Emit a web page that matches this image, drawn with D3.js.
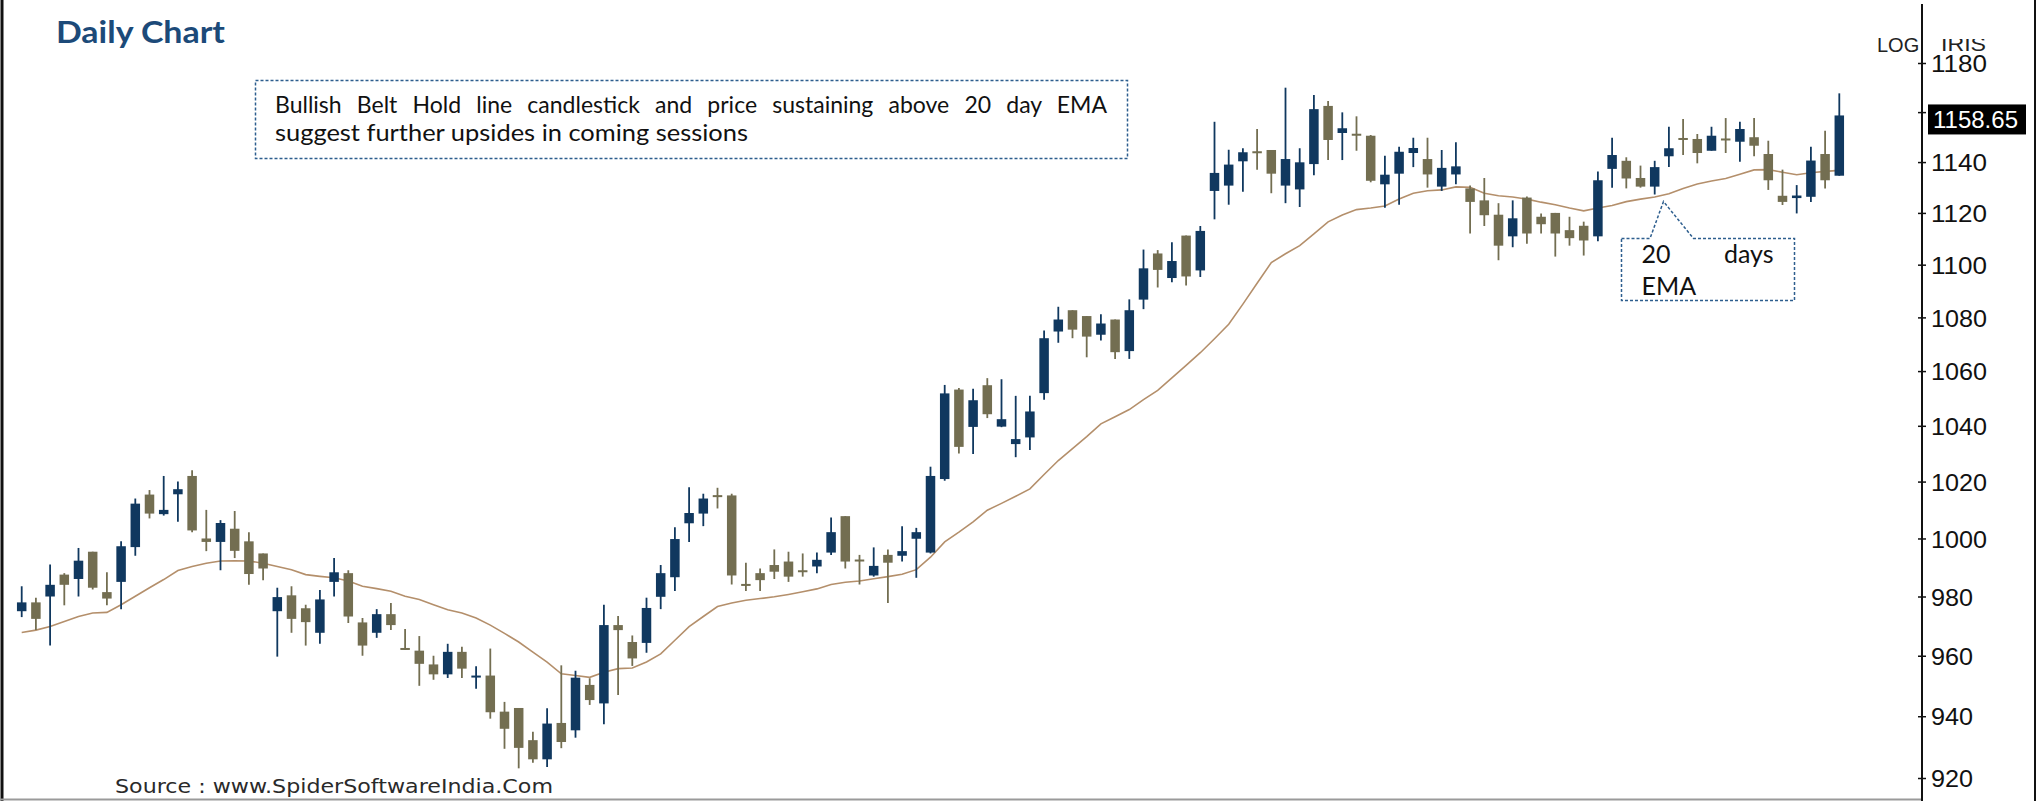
<!DOCTYPE html>
<html>
<head>
<meta charset="utf-8">
<script src="https://cdn.jsdelivr.net/npm/d3@7"></script>
<style>
  body { margin: 0; background: #fff; }
  svg { display: block; }
</style>
</head>
<body>
<script>
// daily candles (oldest -> newest)
var opens = [975, 978, 980, 987.5, 986, 995.4, 981.5, 985, 997, 1015.4,
  1008.5, 1015.5, 1022, 1000, 998.8, 1003.4, 999, 994.8, 975, 980.4,
  976, 967.7, 985, 988, 971.2, 967.7, 974, 962.6, 961.7, 957.1,
  953.8, 961.3, 953, 953.4, 941.5, 942.7, 932.2, 926, 937.8, 935.4,
  950.3, 944.2, 970.3, 964.6, 964.3, 979.9, 986.6, 1005.3, 1008.7, 1015.2,
  1015.1, 984.3, 988, 990.8, 992, 989, 990.3, 995.1, 1007.8, 992.7,
  987.2, 994.3, 994, 999.9, 995.1, 1020.9, 1053.2, 1039.6, 1054.8, 1039.7,
  1033.4, 1035.8, 1051.9, 1074.7, 1082.7, 1080.5, 1073.5, 1079.2, 1067.4, 1086.7,
  1104.3, 1094.9, 1111.2, 1097.8, 1128.6, 1130.7, 1140.3, 1144.3, 1144.8, 1130.7,
  1129.2, 1139.2, 1162.5, 1151.6, 1151.3, 1150.5, 1131.2, 1135.4, 1143.6, 1141.2,
  1130.3, 1135.1, 1129.6, 1124.9, 1119.3, 1110.9, 1126, 1118.5, 1120, 1113.3,
  1115, 1110.9, 1137.3, 1140.5, 1133.7, 1130.3, 1142.3, 1149.6, 1149.2, 1144.5,
  1149.4, 1148.1, 1149.9, 1143.2, 1126.7, 1125.8, 1126.3, 1143.2, 1134.6];

var highs = [983.5, 979.6, 991, 988, 996.7, 995.4, 988.3, 999, 1014, 1017,
  1022, 1020, 1024, 1010, 1006.4, 1009.6, 1002.2, 994.8, 983, 983.5,
  977.2, 982.2, 993.2, 989, 972.7, 975.7, 977.8, 969, 966.6, 960,
  964, 963, 956.5, 962.4, 944.7, 942.7, 934.9, 942.6, 956.8, 955,
  952.5, 977.2, 973.4, 966.8, 979.6, 990.8, 1003.9, 1018, 1015.7, 1017.8,
  1015.7, 991.6, 989.6, 996.2, 995.4, 994.8, 995.1, 1007.3, 1007.8, 994.3,
  996.9, 996.2, 1004.3, 1003.7, 1025.3, 1054.9, 1053.8, 1053.5, 1057.4, 1057,
  1050.9, 1050.9, 1075.1, 1084, 1082.7, 1080.5, 1081.2, 1079.2, 1086.8, 1105.8,
  1105.6, 1108.6, 1111.2, 1114.9, 1156.1, 1144.9, 1145.5, 1153.2, 1144.8, 1169.9,
  1145.5, 1166.9, 1164.5, 1159.9, 1158.3, 1150.8, 1142.5, 1146.1, 1149.7, 1149.7,
  1144.8, 1147.9, 1130.7, 1133.7, 1123.8, 1124.9, 1126.4, 1119.8, 1120, 1118.5,
  1116.6, 1136.3, 1149.7, 1141.9, 1138.6, 1140.5, 1154.1, 1157.2, 1151.2, 1154.1,
  1157.6, 1156.1, 1157.6, 1148.5, 1137, 1130.9, 1146.1, 1152.5, 1167.6];

var lows = [973, 968.6, 963.4, 977, 980, 982.4, 977, 975.7, 994, 1007,
  1008, 1005.8, 1002.2, 995.6, 989, 993.2, 984, 985.6, 959.7, 967.7,
  963.4, 964, 980, 971, 960, 966, 968.6, 962, 950, 952,
  952.6, 952.6, 949, 939.2, 929.4, 923.1, 924.9, 923.5, 929.6, 933,
  943.7, 937.4, 947, 956.6, 961, 975.7, 981.9, 998.8, 1004.3, 1010.5,
  984.1, 981.9, 981.9, 986, 985, 986.8, 988, 994.3, 989.6, 984.1,
  986.8, 977.8, 992, 986.4, 994.8, 1020.3, 1030, 1029.8, 1042.8, 1039.5,
  1028.7, 1031.3, 1049.5, 1070.5, 1072.2, 1065.1, 1071.3, 1064.5, 1064.5, 1083.1,
  1091.3, 1093.3, 1092.1, 1095.3, 1117.5, 1123.2, 1128.3, 1137, 1127.7, 1123.8,
  1122.3, 1134.8, 1140.8, 1140.8, 1144.5, 1132, 1122, 1123.2, 1138, 1129.9,
  1128.6, 1131.2, 1112, 1114.9, 1101.7, 1106.7, 1108, 1112, 1103.1, 1107.3,
  1103.5, 1109, 1129.9, 1129.6, 1129.9, 1127.2, 1138, 1142.8, 1139.5, 1144.5,
  1143.6, 1140.1, 1142.3, 1129, 1123.1, 1119.8, 1124.3, 1129.6, 1134.6];

var closes = [978, 972.4, 984, 984, 992.3, 983, 979.3, 997.3, 1012.2, 1008.7,
  1010, 1017.3, 1002.8, 998.8, 1005.4, 995.7, 987.7, 989.6, 979.8, 972.4,
  971.3, 979, 988.3, 973.2, 963.4, 974, 970.3, 962.4, 957.3, 953.8,
  961.3, 955.7, 953.4, 941.3, 935.9, 929.7, 926, 937.6, 931.6, 952.7,
  945.3, 970.3, 968.6, 959.1, 976.1, 988, 999.8, 1008.9, 1014, 1014.8,
  987.2, 984.1, 985.6, 988.5, 986.8, 988.8, 992.6, 1002.2, 992, 992.5,
  990.5, 991.6, 995.6, 1002.2, 1022, 1051.8, 1032.4, 1049.3, 1044.2, 1042.4,
  1035.2, 1045.2, 1072.2, 1079.2, 1075.4, 1072.8, 1077.7, 1067, 1082.7, 1098.6,
  1098, 1101.4, 1095.5, 1113, 1135.7, 1139, 1143.9, 1144, 1135.4, 1141.2,
  1139.9, 1161.2, 1148.8, 1153.5, 1151.1, 1132.6, 1135, 1144.1, 1145.6, 1135.1,
  1137.7, 1138.3, 1124.3, 1119.1, 1107.3, 1117.9, 1112, 1115.6, 1112, 1110.2,
  1109.3, 1132.8, 1142.8, 1133.5, 1130.3, 1138, 1145.5, 1149.3, 1143.6, 1150.5,
  1149.2, 1153.2, 1146.5, 1132.8, 1124.3, 1126.8, 1140.6, 1132.8, 1158.65];

// 20 day EMA as drawn on the chart
var ema20 = [967.8, 968.6, 969.8, 971.5, 973.2, 974.4, 974.6, 977.2, 980.1, 983,
  985.8, 988.9, 990.3, 991.4, 992.2, 992.3, 992.2, 991.4, 990.3, 989.2,
  987.5, 986.9, 986.4, 985.3, 983.5, 982.7, 981.8, 980.1, 979, 977.2,
  975.5, 974.4, 972.7, 970.3, 967.5, 964.6, 961.2, 957.9, 954, 953.4,
  952.8, 954.5, 955.7, 955.9, 957.9, 960.6, 965.2, 969.8, 973.2, 976.6,
  977.8, 978.7, 979.3, 979.9, 980.7, 981.6, 982.6, 984.1, 984.9, 985.3,
  986.1, 986.8, 987.6, 989.2, 993.5, 998.8, 1002.2, 1005.8, 1009.9, 1012.3,
  1014.8, 1017.4, 1022.5, 1027.5, 1031.8, 1036.1, 1040.7, 1043.3, 1045.9, 1049.5,
  1052.9, 1057.5, 1062.1, 1066.8, 1072, 1077.4, 1085, 1092.9, 1100.8, 1104.2,
  1107.3, 1111.9, 1116.5, 1119.2, 1121.3, 1121.9, 1122.7, 1125.4, 1127.7, 1128.7,
  1129, 1130.2, 1130, 1127.7, 1126.7, 1126.2, 1125.4, 1124.2, 1123.2, 1121.9,
  1120.8, 1121.9, 1122.9, 1124.4, 1125.4, 1126.2, 1127.5, 1129.6, 1131.3, 1132.5,
  1133.5, 1135.2, 1136.9, 1137, 1136, 1135, 1135.8, 1136.3, 1136.7];

var yTicks = [920, 940, 960, 980, 1000, 1020, 1040, 1060, 1080, 1100, 1120, 1140, 1160, 1180];
var lastPrice = 1158.65;

var svgWidth = 2039;
var svgHeight = 801;
var axisX = 1922;

var upColor = "#10385f";
var downColor = "#736e51";

var svg = d3.select("body")
    .append("svg")
    .attr("width", svgWidth)
    .attr("height", svgHeight);

var days = d3.range(1, closes.length + 1);

var xScale = d3.scalePoint()
    .domain(days)
    .range([21.7, 1839.3]);

var yScale = d3.scaleLog()
    .domain([920, 1180])
    .range([778, 63]);

var candles = days.map(function (d, i) {
    return { day: d, open: opens[i], high: highs[i], low: lows[i], close: closes[i] };
});

// frame
svg.append("line").attr("x1", 2).attr("x2", 2).attr("y1", 0).attr("y2", svgHeight)
    .attr("stroke", "#111").attr("stroke-width", 3);
svg.append("line").attr("x1", 0).attr("x2", axisX).attr("y1", 799.5).attr("y2", 799.5)
    .attr("stroke", "#9a9a9a").attr("stroke-width", 2);
svg.append("line").attr("x1", 2035).attr("x2", 2035).attr("y1", 0).attr("y2", svgHeight)
    .attr("stroke", "#111").attr("stroke-width", 2);

// EMA line
var emaLine = d3.line()
    .x(function (d, i) { return xScale(days[i]); })
    .y(function (d) { return yScale(d); });

svg.append("path")
    .datum(ema20)
    .attr("d", emaLine)
    .attr("fill", "none")
    .attr("stroke", "#b48f6b")
    .attr("stroke-width", 1.6);

// candles
var candleGroup = svg.append("g");
var bodyW = 9.5;

candleGroup.selectAll(".wick")
    .data(candles)
    .enter()
    .append("line")
    .attr("class", "wick")
    .attr("x1", d => xScale(d.day))
    .attr("x2", d => xScale(d.day))
    .attr("y1", d => yScale(d.high))
    .attr("y2", d => yScale(d.low))
    .attr("stroke", d => d.close >= d.open ? upColor : downColor)
    .attr("stroke-width", 1.8);

candleGroup.selectAll(".body")
    .data(candles)
    .enter()
    .append("rect")
    .attr("class", "body")
    .attr("x", d => xScale(d.day) - bodyW / 2)
    .attr("width", bodyW)
    .attr("y", d => yScale(Math.max(d.open, d.close)))
    .attr("height", d => Math.max(2, yScale(Math.min(d.open, d.close)) - yScale(Math.max(d.open, d.close))))
    .attr("fill", d => d.close >= d.open ? upColor : downColor);

// price axis on the right
svg.append("line").attr("x1", axisX).attr("x2", axisX).attr("y1", 4).attr("y2", svgHeight)
    .attr("stroke", "#111").attr("stroke-width", 2);

// the 1160 label sits under the last price box, so it is left blank
var rightAxis = d3.axisRight(yScale)
    .tickValues(yTicks)
    .tickFormat(d => d === 1160 ? "" : d3.format("d")(d))
    .tickSize(4)
    .tickPadding(5);

var axisG = svg.append("g")
    .attr("transform", `translate(${axisX}, 0)`)
    .call(rightAxis);
axisG.select(".domain").remove();
axisG.selectAll(".tick line").attr("x1", -4).attr("stroke", "#111").attr("stroke-width", 1.5);
axisG.selectAll(".tick text")
    .attr("font-family", "Liberation Sans, Arial, sans-serif")
    .attr("font-size", 24)
    .attr("dy", "0.36em")
    .attr("fill", "#111")
    .attr("textLength", d => String(d).length * 14)
    .attr("lengthAdjust", "spacingAndGlyphs");

svg.append("text")
    .attr("x", 1877).attr("y", 52)
    .attr("font-family", "Liberation Sans, Arial, sans-serif")
    .attr("font-size", 20)
    .attr("fill", "#222")
    .text("LOG");

svg.append("clipPath").attr("id", "irisClip")
    .append("rect").attr("x", 1930).attr("y", 39).attr("width", 80).attr("height", 14);
svg.append("text")
    .attr("x", 1941).attr("y", 51)
    .attr("clip-path", "url(#irisClip)")
    .attr("font-family", "Liberation Sans, Arial, sans-serif")
    .attr("font-size", 20)
    .attr("fill", "#222")
    .attr("textLength", 45)
    .attr("lengthAdjust", "spacingAndGlyphs")
    .text("IRIS");

// last price box
var yLast = yScale(lastPrice);
svg.append("rect")
    .attr("x", 1928).attr("y", yLast - 11)
    .attr("width", 98).attr("height", 30)
    .attr("fill", "#000");
svg.append("text")
    .attr("x", 1933).attr("y", yLast + 12.5)
    .attr("font-family", "Liberation Sans, Arial, sans-serif")
    .attr("font-size", 24)
    .attr("fill", "#fff")
    .text(d3.format(".2f")(lastPrice));

// title
svg.append("text")
    .attr("x", 56).attr("y", 43)
    .attr("font-family", "Lato, sans-serif")
    .attr("font-weight", "bold")
    .attr("font-size", 31)
    .attr("fill", "#1c4a79")
    .attr("textLength", 169)
    .attr("lengthAdjust", "spacingAndGlyphs")
    .text("Daily Chart");

// justify a line by stretching word spacing
function justify(sel, target) {
    var t = sel.node();
    var natural = t.getComputedTextLength();
    var spaces = (t.textContent.match(/ /g) || []).length;
    if (spaces > 0 && target > natural) {
        sel.attr("word-spacing", (target - natural) / spaces);
    }
}

var dashBlue = "#2d5e8e";

// comment box
svg.append("rect")
    .attr("x", 255.5).attr("y", 80.5)
    .attr("width", 872).attr("height", 78)
    .attr("fill", "#fff")
    .attr("stroke", dashBlue)
    .attr("stroke-width", 1.5)
    .attr("stroke-dasharray", "3,2");

var line1 = svg.append("text")
    .attr("x", 275).attr("y", 113)
    .attr("font-family", "Lato, sans-serif")
    .attr("font-size", 23)
    .attr("fill", "#111")
    .text("Bullish Belt Hold line candlestick and price sustaining above 20 day EMA");
justify(line1, 832);

svg.append("text")
    .attr("x", 275).attr("y", 141)
    .attr("font-family", "Lato, sans-serif")
    .attr("font-size", 23)
    .attr("fill", "#111")
    .attr("textLength", 473)
    .attr("lengthAdjust", "spacingAndGlyphs")
    .text("suggest further upsides in coming sessions");

// EMA callout
svg.append("path")
    .attr("d", "M1621.5,238.5 L1650,238.5 L1663.5,201.5 L1693.5,238.5 L1794.5,238.5 L1794.5,300.5 L1621.5,300.5 Z")
    .attr("fill", "#fff")
    .attr("stroke", dashBlue)
    .attr("stroke-width", 1.5)
    .attr("stroke-dasharray", "3,2");

var emaText1 = svg.append("text")
    .attr("x", 1641.5).attr("y", 263)
    .attr("font-family", "Lato, sans-serif")
    .attr("font-size", 25)
    .attr("fill", "#111")
    .text("20 days");
justify(emaText1, 132);

svg.append("text")
    .attr("x", 1641.5).attr("y", 295)
    .attr("font-family", "Lato, sans-serif")
    .attr("font-size", 25)
    .attr("fill", "#111")
    .text("EMA");

// source
svg.append("text")
    .attr("x", 115).attr("y", 793)
    .attr("font-family", "DejaVu Sans, Verdana, sans-serif")
    .attr("font-size", 19)
    .attr("fill", "#2a2a2a")
    .attr("textLength", 438)
    .attr("lengthAdjust", "spacingAndGlyphs")
    .text("Source : www.SpiderSoftwareIndia.Com");
</script>
</body>
</html>
